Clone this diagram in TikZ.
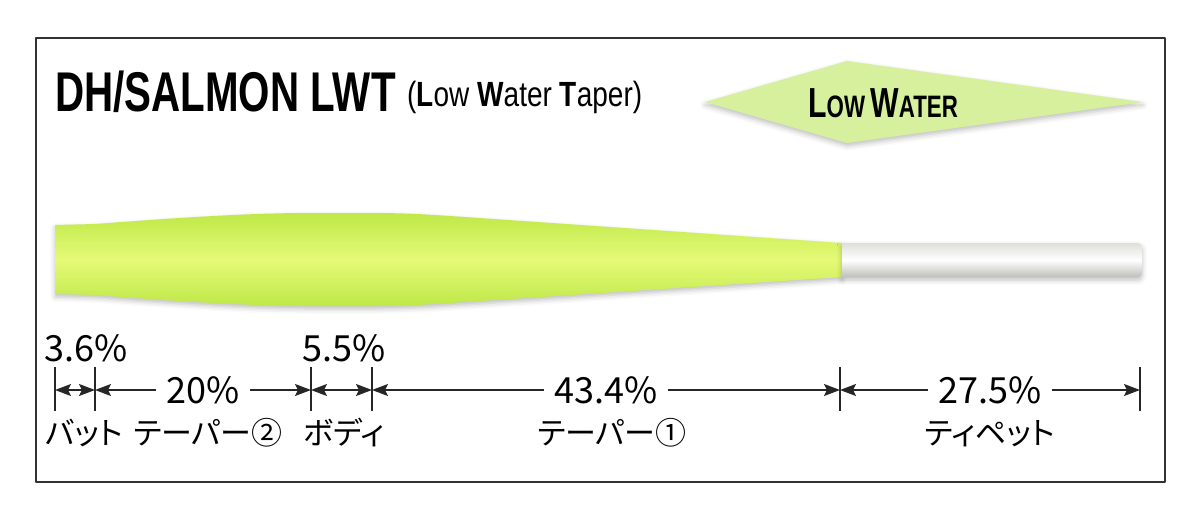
\documentclass[tikz,border=0pt]{standalone}
\usepackage{fontspec}
\setmainfont{Liberation Sans}
\newfontfamily\condfont[FakeStretch=0.8]{Liberation Sans}
\newfontfamily\narrowfont[FakeStretch=0.72]{Liberation Sans}
\newfontfamily\jpfont[RawFeature=+palt]{Noto Sans CJK JP}
\usetikzlibrary{arrows.meta,calc,shadows.blur}
\definecolor{lineedge}{RGB}{190,232,72}
\definecolor{linecore}{RGB}{230,250,120}
\definecolor{tipedge}{RGB}{222,222,218}
\definecolor{tipdark}{RGB}{190,190,186}
\definecolor{bannerfill}{RGB}{214,240,158}
\definecolor{framegray}{RGB}{50,50,50}

\begin{document}
\begin{tikzpicture}[x=1pt,y=-1pt,line join=round,
  >={Stealth[length=16pt,width=12pt,inset=3pt]},
  softshadow/.style={blur shadow={shadow xshift=0pt,shadow yshift=-3pt,shadow blur radius=5pt,shadow opacity=25}},
  tick/.style={line width=1.4pt,black!85},
  dim/.style={line width=1.4pt,black!85},
  pct/.style={font=\jpfont\fontsize{36}{36}\selectfont,text height=26pt,text depth=0pt,inner xsep=10pt,inner ysep=0pt},
  pcttop/.style={font=\jpfont\fontsize{36}{36}\selectfont,anchor=base,inner sep=0pt},
  jplabel/.style={font=\jpfont\fontsize{31}{31}\selectfont,anchor=base,inner sep=0pt}]
  \useasboundingbox (0,0) rectangle (1200,520);
  \draw[line width=2pt,framegray] (36,38) rectangle (1165,482);

  \node[anchor=base west,inner sep=0pt,font=\narrowfont\bfseries\fontsize{56}{56}\selectfont] (title) at (55,111) {DH/SALMON LWT};
  \node[anchor=base west,inner sep=0pt,font=\condfont\fontsize{35}{35}\selectfont] (subtitle) at (407,106) {(\textbf{L}ow \textbf{W}ater \textbf{T}aper)};

  \fill[bannerfill,softshadow] (705,102) -- (847,61) -- (1143,102) -- (847,143) -- cycle;
  \node[anchor=base west,inner sep=0pt,font=\narrowfont\bfseries\fontsize{31}{31}\selectfont] (lowwater) at (808,117)
    {{\fontsize{42}{42}\selectfont L}OW\,{\fontsize{42}{42}\selectfont W}ATER};

  \shade[top color=lineedge,bottom color=lineedge,middle color=linecore,softshadow]
    (55,294) -- (55,225) -- (95,224) .. controls (200,216) and (260,213) .. (310,213)
    -- (372,213) .. controls (400,213) and (420,214) .. (450,216) -- (842,243)
    -- (842,277) -- (450,303) .. controls (420,305) and (400,306) .. (372,306)
    -- (310,306) .. controls (260,306) and (200,303) .. (95,295) -- cycle;
  \shade[top color=tipedge,bottom color=tipdark,middle color=white,softshadow]
    (842,243) [rounded corners=4pt] -- (1142,243) -- (1142,277) [sharp corners] -- (842,277) -- cycle;

  \foreach \x [count=\i from 0] in {55,95,311,372,840,1140} {
    \draw[tick] (\x,367) -- (\x,411);
    \coordinate (t\i) at (\x,390);
  }
  \draw[dim,<->] (t0) -- (t1);
  \draw[dim,<->] (t2) -- (t3);
  \node[pct] (p20) at ($(t1)!0.5!(t2)$) {20\%};
  \node[pct] (p434) at ($(t3)!0.5!(t4)$) {43.4\%};
  \node[pct] (p275) at ($(t4)!0.5!(t5)$) {27.5\%};
  \draw[dim,->] (p20) -- (t1);
  \draw[dim,->] (p20) -- (t2);
  \draw[dim,->] (p434) -- (t3);
  \draw[dim,->] (p434) -- (t4);
  \draw[dim,->] (p275) -- (t4);
  \draw[dim,->] (p275) -- (t5);
  \node[pcttop] (p36) at (86,361) {3.6\%};
  \node[pcttop] (p55) at (344,361) {5.5\%};

  \node[jplabel] (butt) at (84,444) {バット};
  \node[jplabel] (taper2) at (208,444) {テーパー②};
  \node[jplabel] (body) at (344,444) {ボディ};
  \node[jplabel] (taper1) at (612,444) {テーパー①};
  \node[jplabel] (tippet) at (990,444) {ティペット};
\end{tikzpicture}
\end{document}
